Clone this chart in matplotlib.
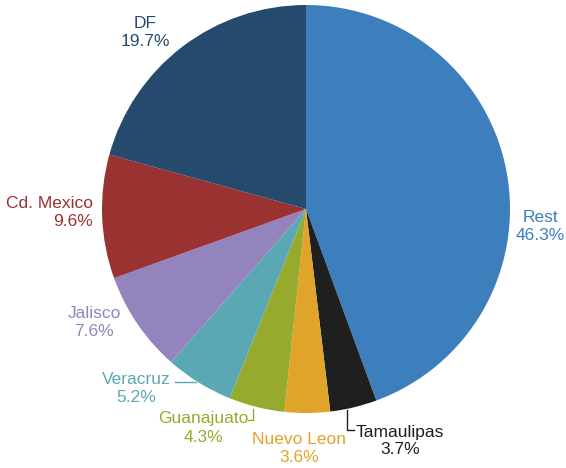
import matplotlib.pyplot as plt

plt.rcParams['font.family'] = ['Liberation Sans', 'DejaVu Sans']

# data
states = ['Rest', 'Tamaulipas', 'Nuevo Leon', 'Guanajuato', 'Veracruz',
          'Jalisco', 'Cd. Mexico', 'DF']
# percentages as printed on the labels
shares = [46.3, 3.7, 3.6, 4.3, 5.2, 7.6, 9.6, 19.7]
# slice sizes as actually drawn in the picture (the Rest wedge is drawn smaller)
slice_sizes = [44.4, 3.7, 3.6, 4.4, 5.4, 8.0, 9.8, 20.7]
colors = ['#3d7ebd', '#1f1f1f', '#e0a42a', '#96aa2e', '#5aa8b4',
          '#9484bd', '#9a3232', '#264a6e']

# label layout, in pixel coords (x, y, horizontal alignment)
label_pos = [(540, 227, 'center'), (400, 441, 'center'), (299, 448, 'center'),
             (203, 428, 'center'), (136, 388, 'center'), (94, 322, 'center'),
             (93, 212, 'right'), (145, 33, 'center')]
# leader lines for the small slices
leaders = {
    'Tamaulipas': ([347, 347, 354], [410, 430, 430]),
    'Guanajuato': ([248, 253, 253], [420, 420, 409]),
    'Veracruz': ([175, 196], [382, 382]),
}

fig = plt.figure(figsize=(5.66, 4.68), dpi=100)
ax = fig.add_axes([0, 0, 1, 1])
ax.pie(slice_sizes, colors=colors, center=(306, 209), radius=204,
       startangle=-90, counterclock=True,
       wedgeprops=dict(linewidth=0))
ax.set_xlim(0, 566)
ax.set_ylim(468, 0)
ax.set_aspect('equal')
ax.axis('off')

for name, val, col, (x, y, ha) in zip(states, shares, colors, label_pos):
    ax.text(x, y, f'{name}\n{val:.1f}%', color=col, fontsize=12.5,
            ha=ha, va='center', multialignment=ha, linespacing=1.25)
    if name in leaders:
        xs, ys = leaders[name]
        ax.plot(xs, ys, color=col, lw=1)

fig.savefig('out.png', dpi=100)
